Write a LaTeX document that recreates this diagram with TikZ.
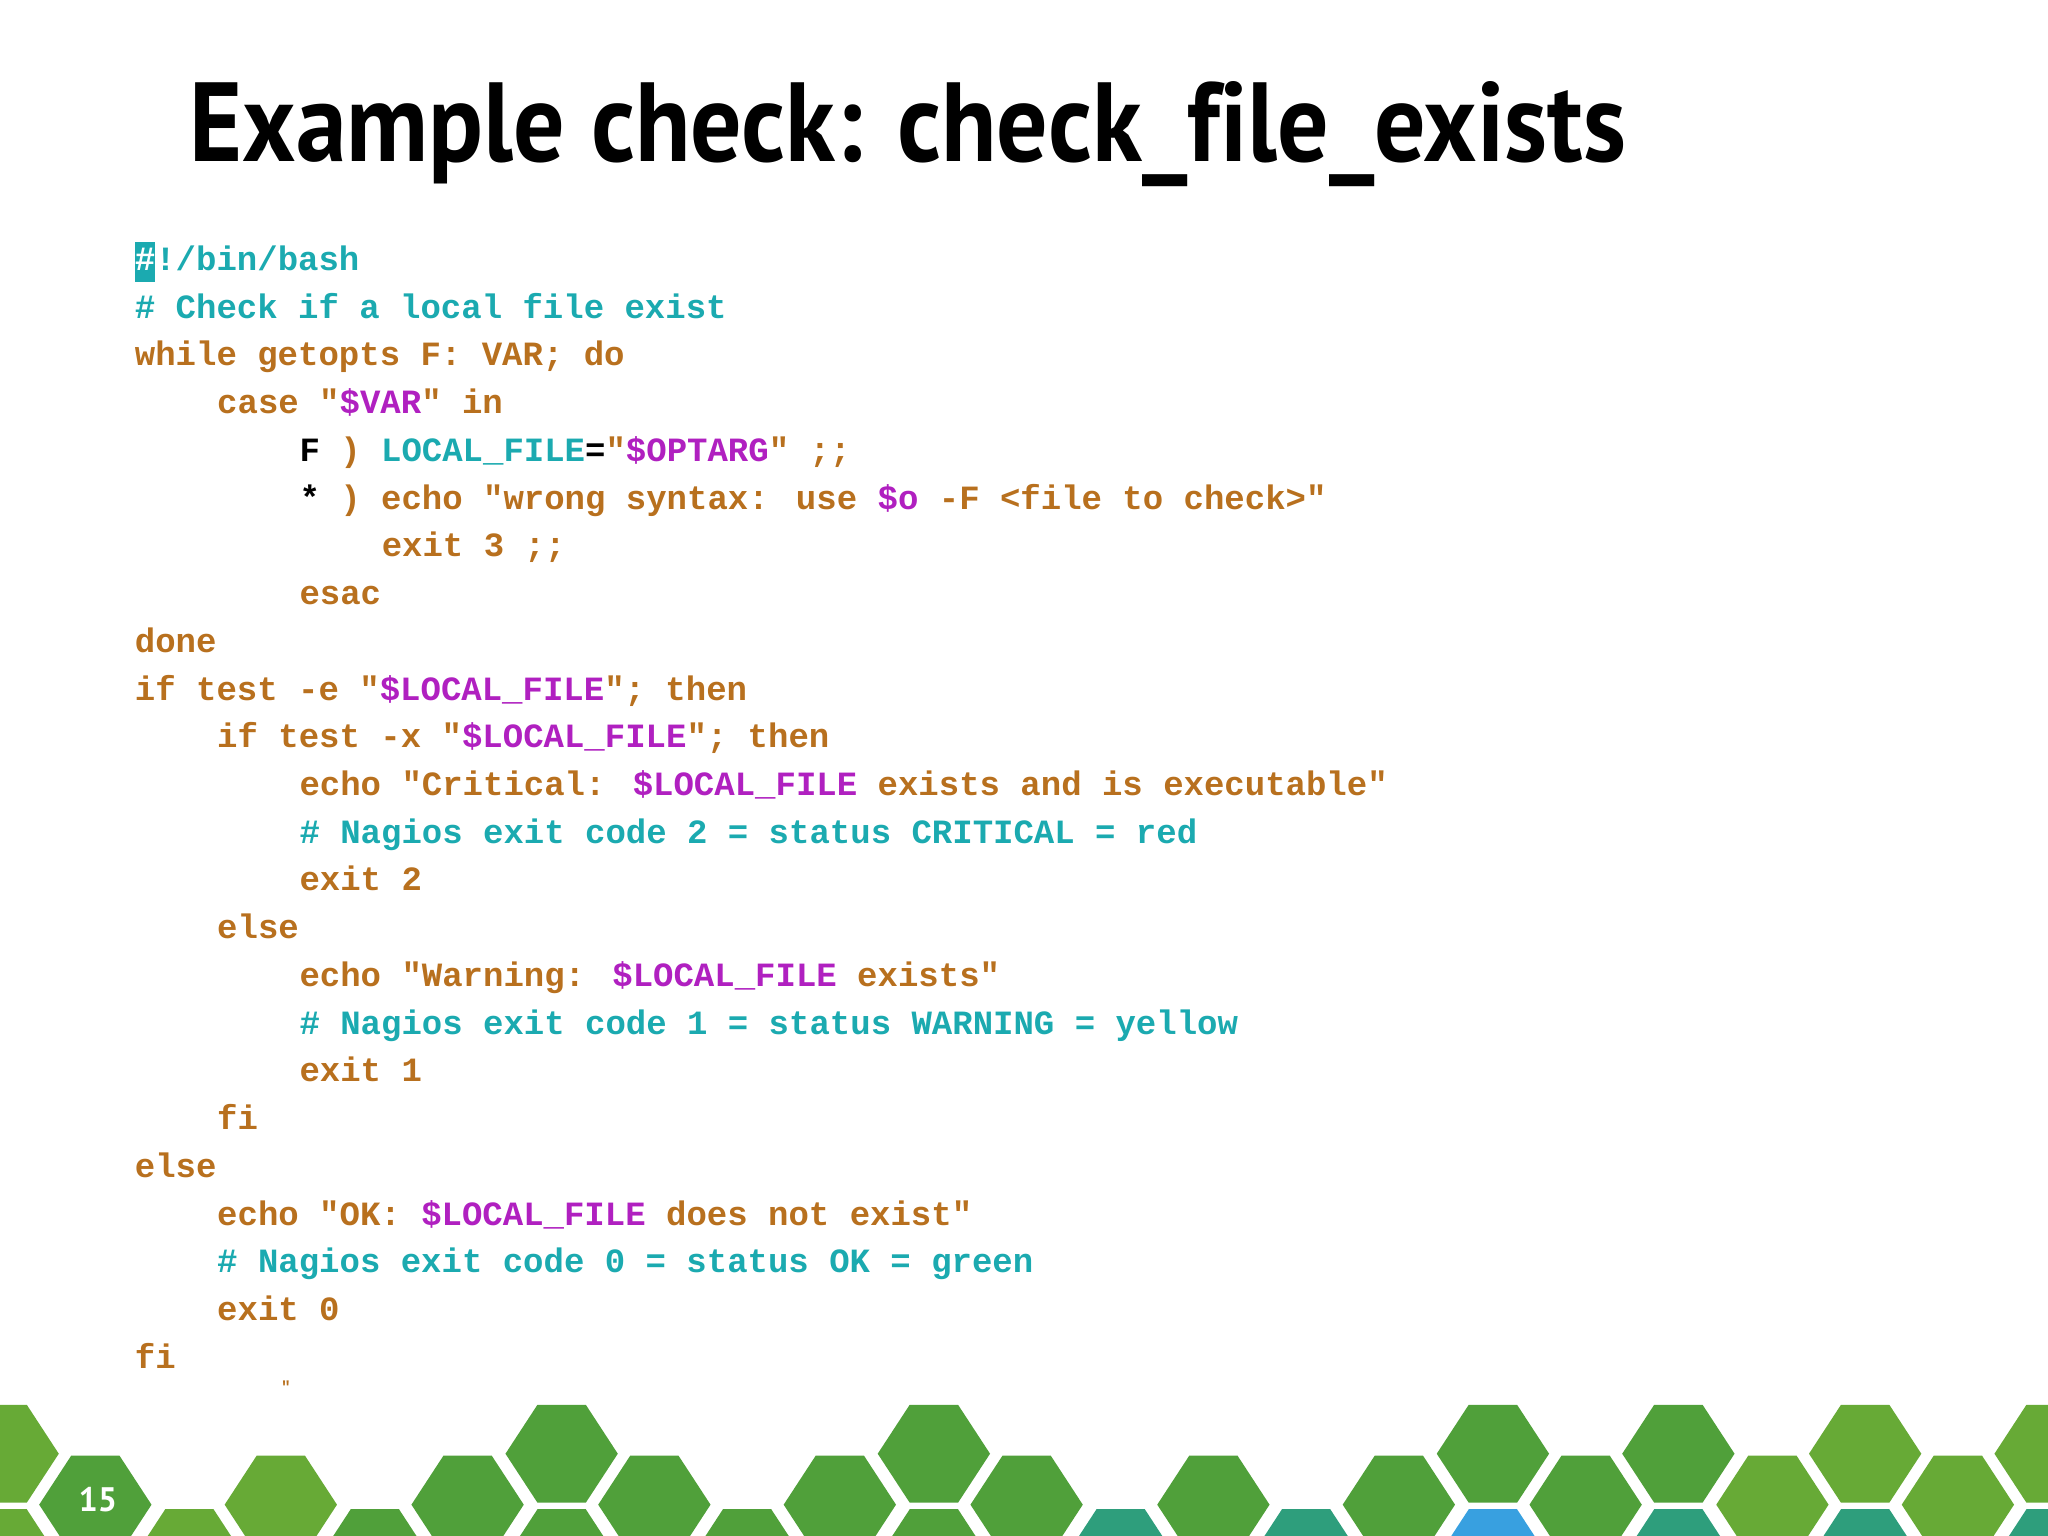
\documentclass[tikz,border=0pt]{standalone}
\usepackage{fontspec}
\newfontfamily\codefont{Liberation Mono}
\newfontfamily\titlefont{PT Sans}[BoldFont={PT Sans Bold},Ligatures=NoCommon]
\definecolor{orn}{HTML}{B8701E}
\definecolor{tea}{HTML}{1BAAB0}
\definecolor{mag}{HTML}{B020C0}
\definecolor{gl}{HTML}{67AA36}
\definecolor{gm}{HTML}{50A03A}
\definecolor{gt}{HTML}{2E9E7C}
\definecolor{gb}{HTML}{38A0E0}
\newcommand{\cT}[1]{\textcolor{tea}{#1}}
\newcommand{\cM}[1]{\textcolor{mag}{#1}}
\tikzset{code/.style={anchor=base west,inner sep=0pt,font=\codefont\bfseries\fontsize{17pt}{20pt}\selectfont,text=orn}}
\begin{document}
\begin{tikzpicture}[x=0.653pt,y=-0.653pt]
\useasboundingbox (0,0) rectangle (1568,1176);
\fill[white] (0,0) rectangle (1568,1176);
\node[anchor=base west,inner sep=0pt] (title) at (145,124) {\resizebox{718pt}{40pt}{\titlefont\bfseries Example check: check\_file\_exists}};
\def\ly#1{207+36.55*#1}
\node[code] (l0) at (103,{\ly{0}}) {{\setlength{\fboxsep}{0pt}\colorbox{tea}{\strut\textcolor{white}{\#}}}\cT{!/bin/bash}};
\node[code] (l1) at (103,{\ly{1}}) {\cT{\# Check if a local file exist}};
\node[code] (l2) at (103,{\ly{2}}) {while getopts F: VAR; do};
\node[code] (l3) at (166,{\ly{3}}) {case "\cM{\$VAR}" in};
\node[code] (l4) at (229,{\ly{4}}) {\textcolor{black}{F} ) \cT{LOCAL\_FILE}\textcolor{black}{=}"\cM{\$OPTARG}" ;;};
\node[code] (l5) at (229,{\ly{5}}) {\textcolor{black}{*} ) echo "wrong syntax: use \cM{\$o} -F <file to check>"};
\node[code] (l6) at (292,{\ly{6}}) {exit 3 ;;};
\node[code] (l7) at (229,{\ly{7}}) {esac};
\node[code] (l8) at (103,{\ly{8}}) {done};
\node[code] (l9) at (103,{\ly{9}}) {if test -e "\cM{\$LOCAL\_FILE}"; then};
\node[code] (l10) at (166,{\ly{10}}) {if test -x "\cM{\$LOCAL\_FILE}"; then};
\node[code] (l11) at (229,{\ly{11}}) {echo "Critical: \cM{\$LOCAL\_FILE} exists and is executable"};
\node[code] (l12) at (229,{\ly{12}}) {\cT{\# Nagios exit code 2 = status CRITICAL = red}};
\node[code] (l13) at (229,{\ly{13}}) {exit 2};
\node[code] (l14) at (166,{\ly{14}}) {else};
\node[code] (l15) at (229,{\ly{15}}) {echo "Warning: \cM{\$LOCAL\_FILE} exists"};
\node[code] (l16) at (229,{\ly{16}}) {\cT{\# Nagios exit code 1 = status WARNING = yellow}};
\node[code] (l17) at (229,{\ly{17}}) {exit 1};
\node[code] (l18) at (166,{\ly{18}}) {fi};
\node[code] (l19) at (103,{\ly{19}}) {else};
\node[code] (l20) at (166,{\ly{20}}) {echo "OK: \cM{\$LOCAL\_FILE} does not exist"};
\node[code] (l21) at (166,{\ly{21}}) {\cT{\# Nagios exit code 0 = status OK = green}};
\node[code] (l22) at (166,{\ly{22}}) {exit 0};
\node[code] (l23) at (103,{\ly{23}}) {fi};
\node[code,font=\codefont\bfseries\fontsize{8pt}{8pt}\selectfont] (dots) at (215,1066) {"};
\begin{scope}
\clip (0,0) rectangle (1568,1176);
\foreach \x/\y/\c in {2/1113/gl,2/1193/gl,145/1193/gl,287/1193/gm,430/1113/gm,430/1193/gm,572/1193/gm,
 715/1113/gm,715/1193/gm,858/1193/gt,1000/1193/gt,1143/1113/gm,1143/1193/gb,1285/1113/gm,1285/1193/gt,
 1428/1113/gl,1428/1193/gt,1570/1113/gl,1570/1193/gt,
 73/1152/gm,215/1152/gl,358/1152/gm,501/1152/gm,643/1152/gm,786/1152/gm,929/1152/gm,1071/1152/gm,
 1214/1152/gm,1357/1152/gl,1499/1152/gl}
 \fill[\c] (\x-18.5,\y-37.5)--(\x+18.5,\y-37.5)--(\x+43,\y)--(\x+18.5,\y+37.5)--(\x-18.5,\y+37.5)--(\x-43,\y)--cycle;
\end{scope}
\node[text=white,font=\titlefont\bfseries\fontsize{17pt}{17pt}\selectfont,inner sep=0pt] (pg) at (75,1148) {15};
\end{tikzpicture}
\end{document}
